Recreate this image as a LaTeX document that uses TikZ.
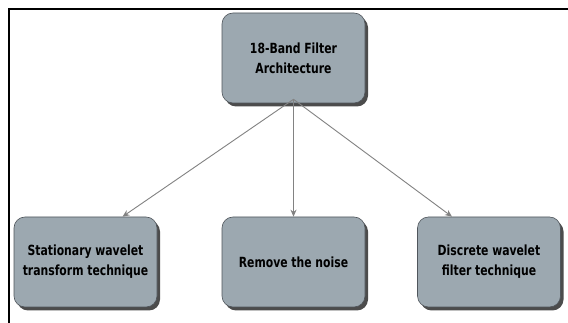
\documentclass[tikz,border=0pt]{standalone}
\usepackage{fontspec}
\setmainfont{DejaVu Sans Condensed}
\newfontfamily\boxfont{DejaVu Sans Condensed}[FakeStretch=0.86]
\usetikzlibrary{shadows,arrows.meta}
\definecolor{boxfill}{RGB}{156,168,176}
\definecolor{boxline}{RGB}{80,86,92}
\definecolor{arrowcol}{RGB}{130,130,130}
\tikzset{
  blk/.style={draw=boxline, line width=0.6pt, fill=boxfill, rounded corners=11pt,
    minimum width=143pt, minimum height=90pt, align=center,
    font=\boxfont\bfseries\fontsize{14}{20}\selectfont, inner sep=0pt,
    drop shadow={shadow xshift=3pt, shadow yshift=-3.5pt, fill=black, opacity=0.7}},
  link/.style={draw=arrowcol, line width=0.9pt, -{Stealth[length=7pt,width=6pt]}},
  frameline/.style={line width=1.6pt, draw=black}
}
\begin{document}
\begin{tikzpicture}[x=1pt,y=-1pt]
\useasboundingbox (0,0) rectangle (568,323);
\fill[white] (0,0) rectangle (568,323);
\coordinate (ftop) at (568,9);
\coordinate (fcorner) at (9,9);
\coordinate (fbot) at (9,323);
\draw[frameline] (ftop) -- (fcorner) -- (fbot);
\node[blk] (top) at (293.5,58) {18-Band Filter\\Architecture};
\node[blk] (left) at (85.5,262) {Stationary wavelet\\transform technique};
\node[blk] (mid) at (293.5,262) {Remove the noise};
\node[blk] (right) at (489,262) {Discrete wavelet\\filter technique};
\coordinate (src) at ([yshift=4pt]top.south);
\draw[link] (src) -- ([xshift=37pt]left.north);
\draw[link] (src) -- (mid.north);
\draw[link] (src) -- ([xshift=-37pt]right.north);
\end{tikzpicture}
\end{document}
